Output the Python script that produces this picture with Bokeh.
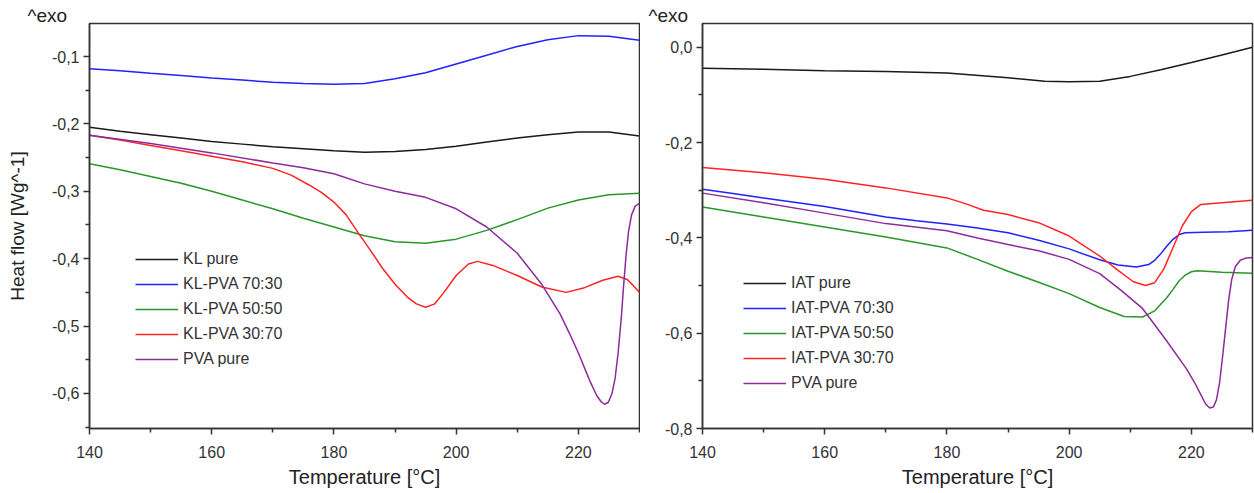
from bokeh.plotting import figure
from bokeh.models import Range1d, FixedTicker, CustomJSTickFormatter, Legend, LegendItem, Title
from bokeh.layouts import row
from bokeh.embed import file_html
from bokeh.resources import INLINE

# ---------------- Left panel (KL) ----------------
kl_pure_T = [140,145,150,155,160,165,170,175,180,185,190,195,200,205,210,215,220,225,230]
kl_pure_V = [-0.205,-0.211,-0.216,-0.221,-0.226,-0.230,-0.234,-0.237,-0.240,-0.242,-0.241,-0.238,-0.233,-0.227,-0.221,-0.216,-0.212,-0.212,-0.218]

kl_7030_T = [140,145,150,155,160,165,170,175,180,185,190,195,200,205,210,215,220,225,230]
kl_7030_V = [-0.118,-0.121,-0.125,-0.128,-0.132,-0.135,-0.138,-0.140,-0.141,-0.140,-0.133,-0.124,-0.111,-0.098,-0.085,-0.075,-0.069,-0.070,-0.076]

kl_5050_T = [140,145,150,155,160,165,170,175,180,185,190,195,200,205,210,215,220,225,230]
kl_5050_V = [-0.259,-0.268,-0.278,-0.288,-0.300,-0.313,-0.326,-0.340,-0.353,-0.366,-0.375,-0.377,-0.371,-0.358,-0.342,-0.325,-0.313,-0.305,-0.303]

kl_3070_T = [140,145,150,155,160,165,170,173,176,178,180,182,184,186,188,190,192,193.5,195,196.5,198,200,202,203.5,206,210,214,218,221,224,226.5,228,229,230]
kl_3070_V = [-0.217,-0.224,-0.232,-0.240,-0.248,-0.256,-0.266,-0.276,-0.291,-0.302,-0.316,-0.335,-0.362,-0.388,-0.415,-0.438,-0.457,-0.467,-0.472,-0.467,-0.450,-0.425,-0.408,-0.404,-0.410,-0.425,-0.442,-0.450,-0.443,-0.432,-0.426,-0.431,-0.440,-0.450]

kl_pva_T = [140,150,160,170,175,180,185,190,195,200,205,210,214,217,218.5,220,221,222,223,223.7,224.3,224.9,225.5,226,226.5,227,227.4,227.8,228.2,228.7,229.3,230]
kl_pva_V = [-0.217,-0.229,-0.243,-0.258,-0.265,-0.274,-0.289,-0.300,-0.309,-0.326,-0.353,-0.392,-0.438,-0.482,-0.510,-0.540,-0.562,-0.584,-0.603,-0.612,-0.616,-0.613,-0.600,-0.578,-0.540,-0.490,-0.440,-0.395,-0.360,-0.335,-0.322,-0.318]

kl_labels = ["KL pure", "KL-PVA 70:30", "KL-PVA 50:50", "KL-PVA 30:70", "PVA pure"]

# ---------------- Right panel (IAT) ----------------
iat_pure_T = [140,150,160,170,180,190,196,200,205,210,215,220,225,230]
iat_pure_V = [-0.044,-0.046,-0.049,-0.051,-0.054,-0.064,-0.071,-0.072,-0.071,-0.061,-0.047,-0.032,-0.016,0.000]

iat_7030_T = [140,145,150,155,160,165,170,175,180,185,190,195,200,205,208,211,213,214,215,216,217,218,219,222,226,230]
iat_7030_V = [-0.298,-0.307,-0.316,-0.325,-0.334,-0.345,-0.356,-0.364,-0.371,-0.379,-0.389,-0.405,-0.423,-0.446,-0.457,-0.461,-0.456,-0.447,-0.433,-0.417,-0.403,-0.393,-0.389,-0.388,-0.387,-0.384]

iat_5050_T = [140,150,160,170,180,185,190,195,200,205,209,212,214,216,217,218,219,220,221,225,230]
iat_5050_V = [-0.335,-0.356,-0.377,-0.398,-0.421,-0.445,-0.470,-0.493,-0.517,-0.546,-0.565,-0.566,-0.553,-0.525,-0.508,-0.490,-0.478,-0.471,-0.469,-0.472,-0.474]

iat_3070_T = [140,150,160,170,180,183,186,190,195,200,205,208,210.5,212.5,214,215.5,217,218.5,220,221.5,225,230]
iat_3070_V = [-0.252,-0.263,-0.277,-0.295,-0.316,-0.328,-0.342,-0.351,-0.368,-0.396,-0.438,-0.468,-0.492,-0.500,-0.494,-0.465,-0.420,-0.375,-0.345,-0.330,-0.326,-0.321]

iat_pva_T = [140,150,160,170,180,185,190,195,200,205,208.5,212,216,219.2,220.5,221.5,222.3,223,223.6,224.1,224.6,225.1,225.6,226.1,226.6,227.2,228,229,230]
iat_pva_V = [-0.306,-0.326,-0.348,-0.370,-0.385,-0.400,-0.414,-0.427,-0.445,-0.475,-0.510,-0.548,-0.617,-0.675,-0.703,-0.728,-0.748,-0.757,-0.755,-0.740,-0.705,-0.650,-0.590,-0.530,-0.487,-0.460,-0.447,-0.442,-0.441]

iat_labels = ["IAT pure", "IAT-PVA 70:30", "IAT-PVA 50:50", "IAT-PVA 30:70", "PVA pure"]

colors = ["#1a1a1a", "#2222ff", "#2a962a", "#ff2424", "#8e2a9c"]

x_ticks = [140, 160, 180, 200, 220]
x_minor = [150, 170, 190, 210, 230]
left_y_ticks = [-0.6, -0.5, -0.4, -0.3, -0.2, -0.1]
left_y_minor = [-0.65, -0.55, -0.45, -0.35, -0.25, -0.15, -0.05]
right_y_ticks = [-0.8, -0.6, -0.4, -0.2, 0.0]
right_y_minor = [-0.7, -0.5, -0.3, -0.1]

FONT = "Liberation Sans"
AX = "#333333"
fmt = CustomJSTickFormatter(code="""
var s = Math.abs(tick) < 1e-9 ? '0.0' : tick.toFixed(1);
return s.replace('.', ',');
""")


def style(p, yt, ym, ylabel):
    p.xaxis.ticker = FixedTicker(ticks=x_ticks, minor_ticks=x_minor)
    p.yaxis.ticker = FixedTicker(ticks=yt, minor_ticks=ym)
    p.yaxis.formatter = fmt
    p.xgrid.visible = False
    p.ygrid.visible = False
    for ax in [p.xaxis[0], p.yaxis[0]]:
        ax.axis_line_color = AX
        ax.axis_line_width = 1.5
        ax.major_tick_line_color = AX
        ax.major_tick_line_width = 1.5
        ax.minor_tick_line_color = AX
        ax.minor_tick_line_width = 1.5
        ax.major_tick_in = 0
        ax.major_tick_out = 6
        ax.minor_tick_in = 0
        ax.minor_tick_out = 4
        ax.major_label_text_font = FONT
        ax.major_label_text_font_size = "16px"
        ax.major_label_text_color = "#333333"
        ax.axis_label_text_font = FONT
        ax.axis_label_text_font_style = "normal"
        ax.axis_label_text_color = "#222222"
    p.xaxis.axis_label = "Temperature [°C]"
    p.xaxis.axis_label_text_font_size = "20px"
    p.xaxis.axis_label_standoff = 5
    p.xaxis.major_label_standoff = 11
    p.yaxis.major_label_standoff = 4
    if ylabel:
        p.yaxis.axis_label = ylabel
        p.yaxis.axis_label_text_font_size = "19px"
        p.yaxis.axis_label_standoff = 21
    p.outline_line_color = AX
    p.outline_line_width = 1.5
    p.outline_line_alpha = 1.0


def add_lines(p, series, labels, loc):
    items = []
    for (T, V), c, lab in zip(series, colors, labels):
        r = p.line(T, V, line_color=c, line_width=1.5)
        items.append(LegendItem(label=lab, renderers=[r]))
    leg = Legend(items=items, location=loc)
    leg.label_text_font = FONT
    leg.label_text_font_size = "16px"
    leg.label_text_color = "#333333"
    leg.glyph_width = 43
    leg.glyph_height = 20
    leg.label_height = 20
    leg.spacing = 5
    leg.padding = 0
    leg.margin = 0
    leg.label_standoff = 5
    leg.border_line_alpha = 0
    leg.background_fill_alpha = 0
    p.add_layout(leg)


def exo_title(offset):
    return Title(text="^exo", align="left", offset=offset, text_font=FONT, text_font_size="19px",
                 text_font_style="normal", text_color="#222222", standoff=-5, vertical_align="bottom")


p1 = figure(width=640, height=493, x_range=Range1d(140, 230), y_range=Range1d(-0.652, -0.051),
            output_backend="svg", toolbar_location=None, title=None,
            min_border_left=89, min_border_right=1, min_border_top=23, min_border_bottom=65)
style(p1, left_y_ticks, left_y_minor, "Heat flow [Wg^-1]")
add_lines(p1, [(kl_pure_T, kl_pure_V), (kl_7030_T, kl_7030_V), (kl_5050_T, kl_5050_V),
               (kl_3070_T, kl_3070_V), (kl_pva_T, kl_pva_V)], kl_labels, (46, 59))
p1.add_layout(exo_title(-62), "above")

p2 = figure(width=614, height=493, x_range=Range1d(140, 230), y_range=Range1d(-0.8, 0.05),
            output_backend="svg", toolbar_location=None, title=None,
            min_border_left=62, min_border_right=2, min_border_top=23, min_border_bottom=65)
style(p2, right_y_ticks, right_y_minor, None)
add_lines(p2, [(iat_pure_T, iat_pure_V), (iat_7030_T, iat_7030_V), (iat_5050_T, iat_5050_V),
               (iat_3070_T, iat_3070_V), (iat_pva_T, iat_pva_V)], iat_labels, (41, 35))
p2.add_layout(exo_title(-54), "above")

layout = row(p1, p2, spacing=0)
open("out.html", "w").write(file_html(layout, INLINE))
